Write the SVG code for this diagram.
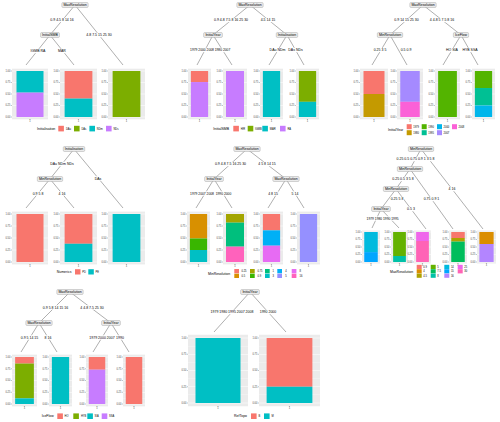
<svg xmlns="http://www.w3.org/2000/svg" width="500" height="422" viewBox="0 0 500 422">
<style>
text{font-family:"Liberation Sans",Arial,sans-serif}
.e{stroke:#4d4d4d;stroke-width:0.45;fill:none}
.nb{fill:#ebebeb;stroke:#8c8c8c;stroke-width:0.35}
.nt{font-size:3.5px;text-anchor:middle;fill:#000}
.lb{fill:#fff}
.el{font-size:3.5px;text-anchor:middle;fill:#000}
.es{font-size:3.3px;text-anchor:middle;fill:#000}
.bg{fill:#ebebeb}
.gmaj{stroke:#fff;stroke-width:0.45;fill:none}
.gmin{stroke:#fff;stroke-width:0.22;fill:none}
.ax{font-size:2.6px;text-anchor:end;fill:#4d4d4d}
.xl{font-size:2.6px;text-anchor:middle;fill:#4d4d4d}
.tk{stroke:#333;stroke-width:0.3;fill:none}
.lt{font-size:3.5px;fill:#000}
.ll{font-size:2.6px;fill:#000}
</style>
<defs>
<g id="gA"><rect class="bg" x="0" y="68.7" width="1" height="50.6"/><path class="gmin" d="M0 76.75H1M0 88.25H1M0 99.75H1M0 111.25H1"/><path class="gmaj" d="M0 71H1M0 82.5H1M0 94H1M0 105.5H1M0 117H1"/></g>
<g id="gB"><rect class="bg" x="0" y="211.6" width="1" height="52.8"/><path class="gmin" d="M0 220H1M0 232H1M0 244H1M0 256H1"/><path class="gmaj" d="M0 214H1M0 226H1M0 238H1M0 250H1M0 262H1"/></g>
<g id="gC"><rect class="bg" x="0" y="230.5" width="1" height="33"/><path class="gmin" d="M0 235.75H1M0 243.25H1M0 250.75H1M0 258.25H1"/><path class="gmaj" d="M0 232H1M0 239.5H1M0 247H1M0 254.5H1M0 262H1"/></g>
<g id="gD"><rect class="bg" x="0" y="354.65" width="1" height="51.7"/><path class="gmin" d="M0 362.875H1M0 374.625H1M0 386.375H1M0 398.125H1"/><path class="gmaj" d="M0 357H1M0 368.75H1M0 380.5H1M0 392.25H1M0 404H1"/></g>
<g id="gE"><rect class="bg" x="0" y="334.75" width="1" height="71.5"/><path class="gmin" d="M0 346.125H1M0 362.375H1M0 378.625H1M0 394.875H1"/><path class="gmaj" d="M0 338H1M0 354.25H1M0 370.5H1M0 386.75H1M0 403H1"/></g>
<g id="axA"><text class="ax" x="-1.5" y="71.95">1.00</text><text class="ax" x="-1.5" y="83.45">0.75</text><text class="ax" x="-1.5" y="94.95">0.50</text><text class="ax" x="-1.5" y="106.45">0.25</text><text class="ax" x="-1.5" y="117.95">0.00</text><path class="tk" d="M-1 71H0M-1 82.5H0M-1 94H0M-1 105.5H0M-1 117H0"/></g>
<g id="axB"><text class="ax" x="-1.5" y="214.95">1.00</text><text class="ax" x="-1.5" y="226.95">0.75</text><text class="ax" x="-1.5" y="238.95">0.50</text><text class="ax" x="-1.5" y="250.95">0.25</text><text class="ax" x="-1.5" y="262.95">0.00</text><path class="tk" d="M-1 214H0M-1 226H0M-1 238H0M-1 250H0M-1 262H0"/></g>
<g id="axC"><text class="ax" x="-1.5" y="232.95">1.00</text><text class="ax" x="-1.5" y="240.45">0.75</text><text class="ax" x="-1.5" y="247.95">0.50</text><text class="ax" x="-1.5" y="255.45">0.25</text><text class="ax" x="-1.5" y="262.95">0.00</text><path class="tk" d="M-1 232H0M-1 239.5H0M-1 247H0M-1 254.5H0M-1 262H0"/></g>
<g id="axD"><text class="ax" x="-1.5" y="357.95">1.00</text><text class="ax" x="-1.5" y="369.7">0.75</text><text class="ax" x="-1.5" y="381.45">0.50</text><text class="ax" x="-1.5" y="393.2">0.25</text><text class="ax" x="-1.5" y="404.95">0.00</text><path class="tk" d="M-1 357H0M-1 368.75H0M-1 380.5H0M-1 392.25H0M-1 404H0"/></g>
<g id="axE"><text class="ax" x="-1.5" y="338.95">1.00</text><text class="ax" x="-1.5" y="355.2">0.75</text><text class="ax" x="-1.5" y="371.45">0.50</text><text class="ax" x="-1.5" y="387.7">0.25</text><text class="ax" x="-1.5" y="403.95">0.00</text><path class="tk" d="M-1 338H0M-1 354.25H0M-1 370.5H0M-1 386.75H0M-1 403H0"/></g>
</defs>
<rect x="0" y="0" width="500" height="422" fill="#fff"/>

<g id="plots">
<g id="plots-1">
<use href="#gA" transform="translate(12 0) scale(36 1)"/><use href="#axA" x="12"/>
<rect x="16.5" y="71" width="27" height="21.62" fill="#00BFC4"/><rect x="16.5" y="92.62" width="27" height="24.38" fill="#C77CFF"/>
<use href="#gA" transform="translate(60 0) scale(37 1)"/><use href="#axA" x="60"/>
<rect x="64.625" y="71" width="27.75" height="27.6" fill="#F8766D"/><rect x="64.625" y="98.6" width="27.75" height="18.4" fill="#00BFC4"/>
<use href="#gA" transform="translate(108 0) scale(37 1)"/><use href="#axA" x="108"/>
<rect x="112.625" y="71" width="27.75" height="46" fill="#7CAE00"/>
<path class="tk" d="M30 119.3v0.9M78.5 119.3v0.9M126.5 119.3v0.9"/>
<text class="xl" x="30" y="122.2">1</text><text class="xl" x="78.5" y="122.2">1</text><text class="xl" x="126.5" y="122.2">1</text>
</g>
<g id="plots-2">
<use href="#gA" transform="translate(188 0) scale(23 1)"/><use href="#axA" x="188"/>
<rect x="190.875" y="71" width="17.25" height="11.04" fill="#F8766D"/><rect x="190.875" y="82.04" width="17.25" height="34.96" fill="#C77CFF"/>
<use href="#gA" transform="translate(223 0) scale(24 1)"/><use href="#axA" x="223"/>
<rect x="226" y="71" width="18" height="46" fill="#C77CFF"/>
<use href="#gA" transform="translate(260 0) scale(23 1)"/><use href="#axA" x="260"/>
<rect x="262.875" y="71" width="17.25" height="46" fill="#00BFC4"/>
<use href="#gA" transform="translate(296 0) scale(23 1)"/><use href="#axA" x="296"/>
<rect x="298.875" y="71" width="17.25" height="30.82" fill="#7CAE00"/><rect x="298.875" y="101.82" width="17.25" height="15.18" fill="#00BFC4"/>
<path class="tk" d="M199.5 119.3v0.9M235 119.3v0.9M271.5 119.3v0.9M307.5 119.3v0.9"/>
<text class="xl" x="199.5" y="122.2">1</text><text class="xl" x="235" y="122.2">1</text><text class="xl" x="271.5" y="122.2">1</text><text class="xl" x="307.5" y="122.2">1</text>
</g>
<g id="plots-3">
<use href="#gA" transform="translate(360 0) scale(28 1)"/><use href="#axA" x="360"/>
<rect x="363.5" y="71" width="21" height="23" fill="#F8766D"/><rect x="363.5" y="94" width="21" height="23" fill="#C49A00"/>
<use href="#gA" transform="translate(397 0) scale(26 1)"/><use href="#axA" x="397"/>
<rect x="400.25" y="71" width="19.5" height="30.82" fill="#A58AFF"/><rect x="400.25" y="101.82" width="19.5" height="15.18" fill="#FB61D7"/>
<use href="#gA" transform="translate(435 0) scale(25 1)"/><use href="#axA" x="435"/>
<rect x="438.125" y="71" width="18.75" height="46" fill="#53B400"/>
<use href="#gA" transform="translate(472 0) scale(23 1)"/><use href="#axA" x="472"/>
<rect x="474.875" y="71" width="17.25" height="17.02" fill="#53B400"/><rect x="474.875" y="88.02" width="17.25" height="17.48" fill="#00C094"/><rect x="474.875" y="105.5" width="17.25" height="11.5" fill="#00B6EB"/>
<path class="tk" d="M374 119.3v0.9M410 119.3v0.9M447.5 119.3v0.9M483.5 119.3v0.9"/>
<text class="xl" x="374" y="122.2">1</text><text class="xl" x="410" y="122.2">1</text><text class="xl" x="447.5" y="122.2">1</text><text class="xl" x="483.5" y="122.2">1</text>
</g>
<g id="plots-4">
<use href="#gB" transform="translate(12 0) scale(36 1)"/><use href="#axB" x="12"/>
<rect x="16.5" y="214" width="27" height="48" fill="#F8766D"/>
<use href="#gB" transform="translate(60 0) scale(37 1)"/><use href="#axB" x="60"/>
<rect x="64.625" y="214" width="27.75" height="29.76" fill="#F8766D"/><rect x="64.625" y="243.76" width="27.75" height="18.24" fill="#00BFC4"/>
<use href="#gB" transform="translate(108 0) scale(37 1)"/><use href="#axB" x="108"/>
<rect x="112.625" y="214" width="27.75" height="48" fill="#00BFC4"/>
<path class="tk" d="M30 264.4v0.9M78.5 264.4v0.9M126.5 264.4v0.9"/>
<text class="xl" x="30" y="267.3">1</text><text class="xl" x="78.5" y="267.3">1</text><text class="xl" x="126.5" y="267.3">1</text>
</g>
<g id="plots-5">
<use href="#gB" transform="translate(187 0) scale(23 1)"/><use href="#axB" x="187"/>
<rect x="189.875" y="214" width="17.25" height="24.48" fill="#D89000"/><rect x="189.875" y="238.48" width="17.25" height="11.52" fill="#39B600"/><rect x="189.875" y="250" width="17.25" height="12" fill="#00BFC4"/>
<use href="#gB" transform="translate(223 0) scale(24 1)"/><use href="#axB" x="223"/>
<rect x="226" y="214" width="18" height="8.64" fill="#A3A500"/><rect x="226" y="222.64" width="18" height="24" fill="#00BF7D"/><rect x="226" y="246.64" width="18" height="15.36" fill="#FF62BC"/>
<use href="#gB" transform="translate(260 0) scale(23 1)"/><use href="#axB" x="260"/>
<rect x="262.875" y="214" width="17.25" height="16.32" fill="#F8766D"/><rect x="262.875" y="230.32" width="17.25" height="15.36" fill="#00B0F6"/><rect x="262.875" y="245.68" width="17.25" height="16.32" fill="#E76BF3"/>
<use href="#gB" transform="translate(297 0) scale(23 1)"/><use href="#axB" x="297"/>
<rect x="299.875" y="214" width="17.25" height="48" fill="#9590FF"/>
<path class="tk" d="M198.5 264.4v0.9M235 264.4v0.9M271.5 264.4v0.9M308.5 264.4v0.9"/>
<text class="xl" x="198.5" y="267.3">1</text><text class="xl" x="235" y="267.3">1</text><text class="xl" x="271.5" y="267.3">1</text><text class="xl" x="308.5" y="267.3">1</text>
</g>
<g id="plots-6">
<use href="#gC" transform="translate(362 0) scale(18 1)"/><use href="#axC" x="362"/>
<rect x="364.25" y="232" width="13.5" height="20.1" fill="#00BADE"/><rect x="364.25" y="252.1" width="13.5" height="9.9" fill="#00A6FF"/>
<use href="#gC" transform="translate(391 0) scale(17 1)"/><use href="#axC" x="391"/>
<rect x="393.125" y="232" width="12.75" height="24" fill="#64B200"/><rect x="393.125" y="256" width="12.75" height="6" fill="#00C1A7"/>
<use href="#gC" transform="translate(414 0) scale(17 1)"/><use href="#axC" x="414"/>
<rect x="416.125" y="232" width="12.75" height="9" fill="#EF67EB"/><rect x="416.125" y="241" width="12.75" height="21" fill="#FF63B6"/>
<use href="#gC" transform="translate(449 0) scale(18 1)"/><use href="#axC" x="449"/>
<rect x="451.25" y="232" width="13.5" height="6" fill="#F8766D"/><rect x="451.25" y="238" width="13.5" height="3.6" fill="#AEA200"/><rect x="451.25" y="241.6" width="13.5" height="20.4" fill="#00BD5C"/>
<use href="#gC" transform="translate(477 0) scale(19 1)"/><use href="#axC" x="477"/>
<rect x="479.375" y="232" width="14.25" height="12" fill="#DB8E00"/><rect x="479.375" y="244" width="14.25" height="18" fill="#B385FF"/>
<path class="tk" d="M371 263.5v0.9M399.5 263.5v0.9M422.5 263.5v0.9M458 263.5v0.9M486.5 263.5v0.9"/>
<text class="xl" x="371" y="266.4">1</text><text class="xl" x="399.5" y="266.4">1</text><text class="xl" x="422.5" y="266.4">1</text><text class="xl" x="458" y="266.4">1</text><text class="xl" x="486.5" y="266.4">1</text>
</g>
<g id="plots-7">
<use href="#gD" transform="translate(12 0) scale(25 1)"/><use href="#axD" x="12"/>
<rect x="15.125" y="357" width="18.75" height="6.58" fill="#F8766D"/><rect x="15.125" y="363.58" width="18.75" height="34.78" fill="#7CAE00"/><rect x="15.125" y="398.36" width="18.75" height="5.64" fill="#00BFC4"/>
<use href="#gD" transform="translate(49 0) scale(23 1)"/><use href="#axD" x="49"/>
<rect x="51.875" y="357" width="17.25" height="47" fill="#00BFC4"/>
<use href="#gD" transform="translate(86 0) scale(22 1)"/><use href="#axD" x="86"/>
<rect x="88.75" y="357" width="16.5" height="12.69" fill="#F8766D"/><rect x="88.75" y="369.69" width="16.5" height="34.31" fill="#C77CFF"/>
<use href="#gD" transform="translate(123 0) scale(22 1)"/><use href="#axD" x="123"/>
<rect x="125.75" y="357" width="16.5" height="47" fill="#F8766D"/>
<path class="tk" d="M24.5 406.35v0.9M60.5 406.35v0.9M97 406.35v0.9M134 406.35v0.9"/>
<text class="xl" x="24.5" y="409.2">1</text><text class="xl" x="60.5" y="409.2">1</text><text class="xl" x="97" y="409.2">1</text><text class="xl" x="134" y="409.2">1</text>
</g>
<g id="plots-8">
<use href="#gE" transform="translate(188 0) scale(60 1)"/><use href="#axE" x="188"/>
<rect x="195.5" y="338" width="45" height="65" fill="#00BFC4"/>
<use href="#gE" transform="translate(259 0) scale(61 1)"/><use href="#axE" x="259"/>
<rect x="266.625" y="338" width="45.75" height="48.75" fill="#F8766D"/><rect x="266.625" y="386.75" width="45.75" height="16.25" fill="#00BFC4"/>
<path class="tk" d="M218 406.25v0.9M289.5 406.25v0.9"/>
<text class="xl" x="218" y="409.1">1</text><text class="xl" x="289.5" y="409.1">1</text>
</g>
</g>

<g id="connectors">
<path class="e" d="M75 5L50 35M75 5L123 65M50 35L26 65M50 35L74 65"/>
<path class="e" d="M250 5L213 35M250 5L287 35M213 35L197 65M213 35L232 65M287 35L269 65M287 35L304 65"/>
<path class="e" d="M423 5L390 35M423 5L461 35M390 35L372 65M390 35L407 65M461 35L443 65M461 35L478 65"/>
<path class="e" d="M74 149L50 179M74 149L123 208M50 179L26 208M50 179L74 208"/>
<path class="e" d="M247 149L214 179M247 149L286 179M214 179L196 208M214 179L232 208M286 179L268 208M286 179L304 208"/>
<path class="e" d="M421 149L410 169M421 149L483 229M410 169L396 189M410 169L453 229M396 189L381 209M396 189L426 229M381 209L372 228M381 209L399 228"/>
<path class="e" d="M70 292L39 323M70 292L111 323M39 323L21 352M39 323L57 352M111 323L93 352M111 323L129 352"/>
<path class="e" d="M250 292L214 332M250 292L286 332"/>
<g id="edge-labels">
<rect class="lb" x="49.625" y="17.8" width="24.75" height="4.4"/><text class="el" x="62" y="21.25">0.9 4.5 8 14 16</text>
<rect class="lb" x="85.65" y="32.8" width="26.7" height="4.4"/><text class="el" x="99" y="36.25">4.8 7.5 15 25 30</text>
<rect class="lb" x="29.9" y="48.8" width="16.2" height="4.4"/><text class="el" x="38" y="52.25">IGMB RA</text>
<rect class="lb" x="57.4" y="48.8" width="9.2" height="4.4"/><text class="el" x="62" y="52.25">MAR</text>

<rect class="lb" x="213.25" y="17.8" width="35.5" height="4.4"/><text class="el" x="231" y="21.25">0.9 4.8 7.5 8 16 25 30</text>
<rect class="lb" x="260" y="17.8" width="16" height="4.4"/><text class="el" x="268" y="21.25">4.5 14 15</text>
<rect class="lb" x="189.6" y="47.8" width="24.8" height="4.4"/><text class="es" x="202" y="51.2">1979 2000 2008</text>
<rect class="lb" x="214.4" y="47.8" width="16.2" height="4.4"/><text class="es" x="222.5" y="51.2">1980 2007</text>
<rect class="lb" x="268.925" y="47.8" width="17.15" height="4.4"/><text class="el" x="277.5" y="51.25">DAu NDm</text>
<rect class="lb" x="287.6" y="47.8" width="15.8" height="4.4"/><text class="el" x="295.5" y="51.25">DAs NDs</text>

<rect class="lb" x="393.65" y="17.8" width="25.7" height="4.4"/><text class="el" x="406.5" y="21.25">0.9 14 15 25 30</text>
<rect class="lb" x="429.15" y="17.8" width="25.7" height="4.4"/><text class="el" x="442" y="21.25">4 4.8 5 7.5 8 16</text>
<rect class="lb" x="372.975" y="47.8" width="14.05" height="4.4"/><text class="el" x="380" y="51.25">0.25 3 5</text>
<rect class="lb" x="399.95" y="47.8" width="12.1" height="4.4"/><text class="el" x="406" y="51.25">0.5 0.9</text>
<rect class="lb" x="445.365" y="47.8" width="13.27" height="4.4"/><text class="el" x="452" y="51.25">HO SIA</text>
<rect class="lb" x="461.715" y="47.8" width="16.57" height="4.4"/><text class="el" x="470" y="51.25">HYB SSA</text>

<rect class="lb" x="49.55" y="161.8" width="24.9" height="4.4"/><text class="el" x="62" y="165.25">DAu NDm NDs</text>
<rect class="lb" x="94" y="176.3" width="8" height="4.4"/><text class="el" x="98" y="179.75">DAs</text>
<rect class="lb" x="31.95" y="191.3" width="12.1" height="4.4"/><text class="el" x="38" y="194.75">0.9 5 8</text>
<rect class="lb" x="57.9" y="191.3" width="8.2" height="4.4"/><text class="el" x="62" y="194.75">4 16</text>

<rect class="lb" x="214.25" y="161.8" width="32.5" height="4.4"/><text class="el" x="230.5" y="165.25">0.9 4.8 7.5 16 25 30</text>
<rect class="lb" x="257.55" y="161.8" width="18.9" height="4.4"/><text class="el" x="267" y="165.25">4 5 8 14 15</text>
<rect class="lb" x="189.6" y="191.3" width="24.8" height="4.4"/><text class="es" x="202" y="194.7">1979 2007 2008</text>
<rect class="lb" x="215.4" y="191.3" width="16.2" height="4.4"/><text class="es" x="223.5" y="194.7">1990 2000</text>
<rect class="lb" x="267.45" y="191.3" width="11.1" height="4.4"/><text class="el" x="273" y="194.75">4 8 15</text>
<rect class="lb" x="290.9" y="191.3" width="8.2" height="4.4"/><text class="el" x="295" y="194.75">5 14</text>

<rect class="lb" x="395.85" y="156.8" width="39.3" height="4.4"/><text class="el" x="415.5" y="160.25">0.25 0.5 0.75 0.9 1 3 5 8</text>
<rect class="lb" x="447.9" y="186.8" width="8.2" height="4.4"/><text class="el" x="452" y="190.25">4 16</text>
<rect class="lb" x="391.6" y="176.8" width="22.8" height="4.4"/><text class="el" x="403" y="180.25">0.25 0.5 3 5 8</text>
<rect class="lb" x="423" y="196.8" width="17" height="4.4"/><text class="el" x="431.5" y="200.25">0.75 0.9 1</text>
<rect class="lb" x="389.975" y="196.8" width="14.05" height="4.4"/><text class="el" x="397" y="200.25">0.25 5 8</text>
<rect class="lb" x="406.4" y="206.8" width="9.2" height="4.4"/><text class="el" x="411" y="210.25">0.5 3</text>
<rect class="lb" x="366.2" y="216.3" width="16.4" height="4.4"/><text class="es" x="374.4" y="219.7">1979 1980</text>
<rect class="lb" x="382.6" y="216.3" width="16.4" height="4.4"/><text class="es" x="390.8" y="219.7">1990 1995</text>

<rect class="lb" x="42.15" y="305.3" width="26.7" height="4.4"/><text class="el" x="55.5" y="308.75">0.9 5 8 14 15 16</text>
<rect class="lb" x="79.625" y="305.3" width="24.75" height="4.4"/><text class="el" x="92" y="308.75">4 4.8 7.5 25 30</text>
<rect class="lb" x="20.05" y="335.3" width="18.9" height="4.4"/><text class="el" x="29.5" y="338.75">0.9 5 14 15</text>
<rect class="lb" x="43.9" y="335.3" width="8.2" height="4.4"/><text class="el" x="48" y="338.75">8 16</text>
<rect class="lb" x="88.65" y="335.3" width="26.7" height="4.4"/><text class="el" x="102" y="338.75">1979 2000 2007</text>
<rect class="lb" x="115.4" y="335.3" width="9.2" height="4.4"/><text class="el" x="120" y="338.75">1990</text>

<rect class="lb" x="209.9" y="309.8" width="44.2" height="4.4"/><text class="el" x="232" y="313.25">1979 1980 1995 2007 2008</text>
<rect class="lb" x="259.03" y="309.8" width="17.94" height="4.4"/><text class="el" x="268" y="313.25">1990 2000</text>
</g>
</g>

<g id="node-p1-root"><rect class="nb" x="61.825" y="2.5" width="26.35" height="5" rx="1.2"/><text class="nt" x="75" y="6.25">MaxResolution</text></g>
<g id="node-p1-a"><rect class="nb" x="40.525" y="32.5" width="18.95" height="5" rx="1.2"/><text class="nt" x="50" y="36.25">InitialSMB</text></g>
<g id="node-p2-root"><rect class="nb" x="236.825" y="2.5" width="26.35" height="5" rx="1.2"/><text class="nt" x="250" y="6.25">MaxResolution</text></g>
<g id="node-p2-a"><rect class="nb" x="203.62" y="32.5" width="18.76" height="5" rx="1.2"/><text class="nt" x="213" y="36.25">InitialYear</text></g>
<g id="node-p2-b"><rect class="nb" x="276.26" y="32.5" width="21.48" height="5" rx="1.2"/><text class="nt" x="287" y="36.25">Initialisation</text></g>
<g id="node-p3-root"><rect class="nb" x="409.825" y="2.5" width="26.35" height="5" rx="1.2"/><text class="nt" x="423" y="6.25">MaxResolution</text></g>
<g id="node-p3-a"><rect class="nb" x="377.315" y="32.5" width="25.37" height="5" rx="1.2"/><text class="nt" x="390" y="36.25">MinResolution</text></g>
<g id="node-p3-b"><rect class="nb" x="453.37" y="32.5" width="15.26" height="5" rx="1.2"/><text class="nt" x="461" y="36.25">IceFlow</text></g>
<g id="node-p4-root"><rect class="nb" x="63.26" y="146.5" width="21.48" height="5" rx="1.2"/><text class="nt" x="74" y="150.25">Initialisation</text></g>
<g id="node-p4-a"><rect class="nb" x="37.315" y="176.5" width="25.37" height="5" rx="1.2"/><text class="nt" x="50" y="180.25">MinResolution</text></g>
<g id="node-p5-root"><rect class="nb" x="233.825" y="146.5" width="26.35" height="5" rx="1.2"/><text class="nt" x="247" y="150.25">MaxResolution</text></g>
<g id="node-p5-a"><rect class="nb" x="204.62" y="176.5" width="18.76" height="5" rx="1.2"/><text class="nt" x="214" y="180.25">InitialYear</text></g>
<g id="node-p5-b"><rect class="nb" x="272.825" y="176.5" width="26.35" height="5" rx="1.2"/><text class="nt" x="286" y="180.25">MaxResolution</text></g>
<g id="node-p6-root"><rect class="nb" x="408.315" y="146.5" width="25.37" height="5" rx="1.2"/><text class="nt" x="421" y="150.25">MinResolution</text></g>
<g id="node-p6-a"><rect class="nb" x="397.315" y="166.5" width="25.37" height="5" rx="1.2"/><text class="nt" x="410" y="170.25">MinResolution</text></g>
<g id="node-p6-b"><rect class="nb" x="383.315" y="186.5" width="25.37" height="5" rx="1.2"/><text class="nt" x="396" y="190.25">MinResolution</text></g>
<g id="node-p6-c"><rect class="nb" x="371.62" y="206.5" width="18.76" height="5" rx="1.2"/><text class="nt" x="381" y="210.25">InitialYear</text></g>
<g id="node-p7-root"><rect class="nb" x="56.825" y="289.5" width="26.35" height="5" rx="1.2"/><text class="nt" x="70" y="293.25">MaxResolution</text></g>
<g id="node-p7-a"><rect class="nb" x="25.825" y="320.5" width="26.35" height="5" rx="1.2"/><text class="nt" x="39" y="324.25">MaxResolution</text></g>
<g id="node-p7-b"><rect class="nb" x="101.62" y="320.5" width="18.76" height="5" rx="1.2"/><text class="nt" x="111" y="324.25">InitialYear</text></g>
<g id="node-p8-root"><rect class="nb" x="240.62" y="289.5" width="18.76" height="5" rx="1.2"/><text class="nt" x="250" y="293.25">InitialYear</text></g>

<g id="legends">
<g id="legend-1"><text class="lt" x="37" y="129.8">Initialisation</text>
<rect x="58.3" y="125.8" width="5.6" height="5.6" fill="#F8766D"/><text class="ll" x="65.9" y="129.5">DAu</text>
<rect x="74" y="125.8" width="5.6" height="5.6" fill="#7CAE00"/><text class="ll" x="81.4" y="129.5">DAs</text>
<rect x="89.4" y="125.8" width="5.6" height="5.6" fill="#00BFC4"/><text class="ll" x="96.8" y="129.5">NDm</text>
<rect x="106" y="125.8" width="5.6" height="5.6" fill="#C77CFF"/><text class="ll" x="113.4" y="129.5">NDs</text></g>
<g id="legend-2"><text class="lt" x="213.3" y="129.8">InitialSMB</text>
<rect x="233.3" y="125.8" width="5.6" height="5.6" fill="#F8766D"/><text class="ll" x="240.7" y="129.5">HIR</text>
<rect x="247.7" y="125.8" width="5.6" height="5.6" fill="#7CAE00"/><text class="ll" x="255" y="129.5">IGMB</text>
<rect x="262.3" y="125.8" width="5.6" height="5.6" fill="#00BFC4"/><text class="ll" x="269.8" y="129.5">MAR</text>
<rect x="280" y="125.8" width="5.6" height="5.6" fill="#C77CFF"/><text class="ll" x="287.4" y="129.5">RA</text></g>
<g id="legend-3"><text class="lt" x="388" y="131">InitialYear</text>
<rect x="406.7" y="124.2" width="5" height="5" fill="#F8766D"/><text class="ll" x="413.2" y="127.6">1979</text>
<rect x="406.7" y="130.2" width="5" height="5" fill="#C49A00"/><text class="ll" x="413.2" y="133.6">1980</text>
<rect x="421.7" y="124.2" width="5" height="5" fill="#53B400"/><text class="ll" x="428.2" y="127.6">1990</text>
<rect x="421.7" y="130.2" width="5" height="5" fill="#00C094"/><text class="ll" x="428.2" y="133.6">1995</text>
<rect x="437" y="124.2" width="5" height="5" fill="#00B6EB"/><text class="ll" x="443.5" y="127.6">2000</text>
<rect x="437" y="130.2" width="5" height="5" fill="#A58AFF"/><text class="ll" x="443.5" y="133.6">2007</text>
<rect x="452" y="124.2" width="5" height="5" fill="#FB61D7"/><text class="ll" x="458.5" y="127.6">2008</text></g>
<g id="legend-4"><text class="lt" x="56.7" y="273.1">Numerics</text>
<rect x="75" y="269.2" width="5.5" height="5.3" fill="#F8766D"/><text class="ll" x="82.2" y="272.8">PD</text>
<rect x="88.3" y="269.2" width="5.5" height="5.3" fill="#00BFC4"/><text class="ll" x="95.6" y="272.8">PE</text></g>
<g id="legend-5"><text class="lt" x="208" y="274.8">MinResolution</text>
<rect x="234.3" y="269" width="4.7" height="4.3" fill="#F8766D"/><text class="ll" x="241.5" y="272.1">0.25</text>
<rect x="234.3" y="273.7" width="4.7" height="4.3" fill="#D89000"/><text class="ll" x="241.5" y="276.8">0.5</text>
<rect x="250" y="269" width="4.7" height="4.3" fill="#A3A500"/><text class="ll" x="257.5" y="272.1">0.75</text>
<rect x="250" y="273.7" width="4.7" height="4.3" fill="#39B600"/><text class="ll" x="257.5" y="276.8">0.9</text>
<rect x="265" y="269" width="4.7" height="4.3" fill="#00BF7D"/><text class="ll" x="272.5" y="272.1">1</text>
<rect x="265" y="273.7" width="4.7" height="4.3" fill="#00BFC4"/><text class="ll" x="272.5" y="276.8">3</text>
<rect x="277.3" y="269" width="4.7" height="4.3" fill="#00B0F6"/><text class="ll" x="285.3" y="272.1">4</text>
<rect x="277.3" y="273.7" width="4.7" height="4.3" fill="#9590FF"/><text class="ll" x="285.3" y="276.8">5</text>
<rect x="291.7" y="269" width="4.7" height="4.3" fill="#E76BF3"/><text class="ll" x="299.5" y="272.1">8</text>
<rect x="291.7" y="273.7" width="4.7" height="4.3" fill="#FF62BC"/><text class="ll" x="299.5" y="276.8">16</text></g>
<g id="legend-6"><text class="lt" x="390" y="272.8">MaxResolution</text>
<rect x="416.7" y="264.8" width="5" height="4.2" fill="#F8766D"/><text class="ll" x="423.3" y="267.8">0.9</text>
<rect x="416.7" y="269.2" width="5" height="4.2" fill="#DB8E00"/><text class="ll" x="423.3" y="272.2">4</text>
<rect x="416.7" y="273.6" width="5" height="4.2" fill="#AEA200"/><text class="ll" x="423.3" y="276.6">4.5</text>
<rect x="430.7" y="264.8" width="5" height="4.2" fill="#64B200"/><text class="ll" x="437.3" y="267.8">5</text>
<rect x="430.7" y="269.2" width="5" height="4.2" fill="#00BD5C"/><text class="ll" x="437.3" y="272.2">7.5</text>
<rect x="430.7" y="273.6" width="5" height="4.2" fill="#00C1A7"/><text class="ll" x="437.3" y="276.6">8</text>
<rect x="444.3" y="264.8" width="5" height="4.2" fill="#00BADE"/><text class="ll" x="450.9" y="267.8">14</text>
<rect x="444.3" y="269.2" width="5" height="4.2" fill="#00A6FF"/><text class="ll" x="450.9" y="272.2">15</text>
<rect x="444.3" y="273.6" width="5" height="4.2" fill="#B385FF"/><text class="ll" x="450.9" y="276.6">16</text>
<rect x="457.7" y="264.8" width="5" height="4.2" fill="#EF67EB"/><text class="ll" x="464.3" y="267.8">25</text>
<rect x="457.7" y="269.2" width="5" height="4.2" fill="#FF63B6"/><text class="ll" x="464.3" y="272.2">30</text></g>
<g id="legend-7"><text class="lt" x="41.7" y="417.4">IceFlow</text>
<rect x="57.3" y="413.4" width="5.6" height="5.6" fill="#F8766D"/><text class="ll" x="64.6" y="417.1">HO</text>
<rect x="73.3" y="413.4" width="5.6" height="5.6" fill="#7CAE00"/><text class="ll" x="80.9" y="417.1">HYB</text>
<rect x="87.3" y="413.4" width="5.6" height="5.6" fill="#00BFC4"/><text class="ll" x="94.6" y="417.1">SIA</text>
<rect x="101.7" y="413.4" width="5.6" height="5.6" fill="#C77CFF"/><text class="ll" x="109" y="417.1">SSA</text></g>
<g id="legend-8"><text class="lt" x="234" y="417.4">RefTopo</text>
<rect x="251" y="413.4" width="5.6" height="5.6" fill="#F8766D"/><text class="ll" x="258.4" y="417.1">B</text>
<rect x="264" y="413.4" width="5.6" height="5.6" fill="#00BFC4"/><text class="ll" x="271.4" y="417.1">M</text></g>
</g>
</svg>
